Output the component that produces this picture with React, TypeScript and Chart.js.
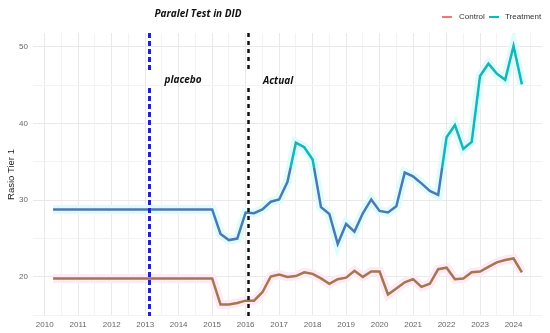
import React, { useEffect, useRef } from "react";
import { Chart, registerables } from "chart.js";

Chart.register(...registerables);

// ---------- data ----------
const quarters = [
  2010.25, 2010.5, 2010.75, 2011, 2011.25, 2011.5, 2011.75, 2012, 2012.25, 2012.5,
  2012.75, 2013, 2013.25, 2013.5, 2013.75, 2014, 2014.25, 2014.5, 2014.75, 2015,
  2015.25, 2015.5, 2015.75, 2016, 2016.25, 2016.5, 2016.75, 2017, 2017.25, 2017.5,
  2017.75, 2018, 2018.25, 2018.5, 2018.75, 2019, 2019.25, 2019.5, 2019.75, 2020,
  2020.25, 2020.5, 2020.75, 2021, 2021.25, 2021.5, 2021.75, 2022, 2022.25, 2022.5,
  2022.75, 2023, 2023.25, 2023.5, 2023.75, 2024, 2024.25,
];

const treatment = [
  28.8, 28.8, 28.8, 28.8, 28.8, 28.8, 28.8, 28.8, 28.8, 28.8,
  28.8, 28.8, 28.8, 28.8, 28.8, 28.8, 28.8, 28.8, 28.8, 28.8,
  25.6, 24.8, 25.0, 28.4, 28.3, 28.8, 29.8, 30.1, 32.4, 37.5,
  36.9, 35.3, 29.1, 28.2, 24.3, 26.9, 25.9, 28.3, 30.1, 28.6,
  28.4, 29.2, 33.6, 33.1, 32.2, 31.2, 30.7, 38.2, 39.8, 36.7,
  37.6, 46.2, 47.8, 46.5, 45.7, 50.1, 45.1,
];

const control = [
  19.8, 19.8, 19.8, 19.8, 19.8, 19.8, 19.8, 19.8, 19.8, 19.8,
  19.8, 19.8, 19.8, 19.8, 19.8, 19.8, 19.8, 19.8, 19.8, 19.8,
  16.4, 16.4, 16.6, 16.9, 16.9, 18.0, 20.05, 20.3, 20.0, 20.1,
  20.6, 20.4, 19.8, 19.1, 19.7, 19.9, 20.8, 20.0, 20.7, 20.7,
  17.7, 18.5, 19.3, 19.7, 18.7, 19.1, 21.0, 21.2, 19.7, 19.8,
  20.6, 20.7, 21.3, 21.9, 22.2, 22.4, 20.6,
];

const xTickYears = [2010, 2011, 2012, 2013, 2014, 2015, 2016, 2017, 2018, 2019, 2020, 2021, 2022, 2023, 2024];
const yTickValues = [15, 20, 25, 30, 35, 40, 45, 50];
const yLabelEvery = 10;

const placeboYear = 2013.1;
const actualYear = 2016.07;
const colorSplitValue = 34.2;

const titleText = "Paralel Test in DID";
const yAxisTitle = "Rasio Tier 1";
const placeboText = "placebo";
const actualText = "Actual";
const legendLabels = ["Control", "Treatment"];
const legendColors = ["#f8766d", "#00bfc4"];

// ---------- styles ----------
const TEAL = "#16b5b7";
const BLUE = "#4d78b2";
const BROWN = "#a3774f";
const CYAN_BAND = "#defcfc";
const PINK_BAND = "#feeaf5";
const FONT = "'Liberation Sans', Arial, sans-serif";
const LABEL_FONT = "italic bold 10px 'Open Sans', 'DejaVu Sans', sans-serif";

const annotationPlugin = {
  id: "didAnnotations",
  afterDatasetsDraw(chart: any) {
    const { ctx, chartArea, scales } = chart;
    const top = chartArea.top;
    const bottom = chartArea.bottom;
    const gapTop = 72;
    const gapBottom = 88;
    const drawV = (value: number, color: string, width: number, dash: number[]) => {
      const x = Math.round(scales.x.getPixelForValue(value)) + 0.5;
      ctx.save();
      ctx.strokeStyle = color;
      ctx.lineWidth = width;
      ctx.setLineDash(dash);
      ctx.beginPath();
      ctx.moveTo(x, top);
      ctx.lineTo(x, gapTop);
      ctx.moveTo(x, gapBottom);
      ctx.lineTo(x, bottom);
      ctx.stroke();
      ctx.restore();
    };
    drawV(placeboYear, "#2222c8", 3, [5, 3]);
    drawV(actualYear, "#111111", 2.5, [4, 4]);
  },
  afterDraw(chart: any) {
    const { ctx, scales } = chart;
    ctx.save();
    ctx.fillStyle = "#111";
    ctx.textBaseline = "middle";
    ctx.font = LABEL_FONT;
    ctx.textAlign = "left";
    ctx.fillText(placeboText, scales.x.getPixelForValue(placeboYear) + 16, 80);
    ctx.fillText(actualText, scales.x.getPixelForValue(actualYear) + 15, 81);
    ctx.textAlign = "center";
    ctx.fillText(titleText, 198, 14);

    // legend
    ctx.font = `8px ${FONT}`;
    ctx.textAlign = "left";
    ctx.fillStyle = "#333";
    const items = [
      { x: 442, tx: 459 },
      { x: 489, tx: 505 },
    ];
    items.forEach((it, i) => {
      ctx.strokeStyle = legendColors[i];
      ctx.lineWidth = 2;
      ctx.setLineDash([]);
      ctx.beginPath();
      ctx.moveTo(it.x, 17);
      ctx.lineTo(it.x + 10, 17);
      ctx.stroke();
      ctx.fillText(legendLabels[i], it.tx, 17);
    });
    ctx.restore();
  },
};

export default function App() {
  const canvasRef = useRef<HTMLCanvasElement | null>(null);

  useEffect(() => {
    if (!canvasRef.current) return;

    const treatmentColor = (c: any) => {
      const chart = c.chart;
      const { chartArea, scales } = chart;
      if (!chartArea) return BLUE;
      const g = chart.ctx.createLinearGradient(0, chartArea.top, 0, chartArea.bottom);
      const yp = scales.y.getPixelForValue(colorSplitValue);
      const f = Math.min(1, Math.max(0, (yp - chartArea.top) / (chartArea.bottom - chartArea.top)));
      g.addColorStop(0, TEAL);
      g.addColorStop(f, TEAL);
      g.addColorStop(f, BLUE);
      g.addColorStop(1, BLUE);
      return g;
    };

    const tPoints = quarters.map((q, i) => ({ x: q, y: treatment[i] }));
    const cPoints = quarters.map((q, i) => ({ x: q, y: control[i] }));

    const chart = new Chart(canvasRef.current, {
      type: "line",
      data: {
        datasets: [
          {
            label: legendLabels[0],
            data: cPoints,
            borderColor: BROWN,
            borderWidth: 2.5,
            pointRadius: 0,
            tension: 0,
            order: 0,
          },
          {
            label: legendLabels[1],
            data: tPoints,
            borderColor: treatmentColor,
            borderWidth: 2.5,
            pointRadius: 0,
            tension: 0,
            order: 0,
          },
          {
            label: "control-band",
            data: cPoints,
            borderColor: PINK_BAND,
            borderWidth: 9,
            pointRadius: 0,
            order: 10,
          },
          {
            label: "treatment-band",
            data: tPoints,
            borderColor: CYAN_BAND,
            borderWidth: 9,
            pointRadius: 0,
            order: 10,
          },
        ],
      },
      options: {
        responsive: false,
        animation: false,
        layout: { padding: { top: 33, right: 8, left: 0, bottom: 0 } },
        plugins: {
          legend: { display: false },
          tooltip: { enabled: false },
          title: { display: false },
        },
        scales: {
          x: {
            type: "linear",
            min: 2009.65,
            max: 2024.85,
            afterBuildTicks: (scale: any) => {
              const t: any[] = [];
              xTickYears.forEach((y) => {
                t.push({ value: y });
                t.push({ value: y + 0.5 });
              });
              scale.ticks = t;
            },
            afterFit: (scale: any) => {
              scale.height = 17;
            },
            border: { display: false },
            grid: {
              drawTicks: false,
              color: (c: any) => (Number.isInteger(c.tick?.value) ? "#e9e9e9" : "#f3f3f3"),
              lineWidth: 1,
            },
            ticks: {
              autoSkip: false,
              maxRotation: 0,
              padding: 4,
              color: "#666",
              font: { size: 8, family: FONT },
              callback: (v: any) => (Number.isInteger(v) ? String(v) : ""),
            },
          },
          y: {
            min: 14.9,
            max: 51.8,
            afterBuildTicks: (scale: any) => {
              scale.ticks = yTickValues.map((v) => ({ value: v }));
            },
            afterFit: (scale: any) => {
              scale.width = 33;
            },
            border: { display: false },
            grid: {
              drawTicks: false,
              color: (c: any) => (c.tick && c.tick.value % yLabelEvery === 0 ? "#e9e9e9" : "#f3f3f3"),
              lineWidth: 1,
            },
            ticks: {
              padding: 5,
              color: "#666",
              font: { size: 8, family: FONT },
              callback: (v: any) => (Number(v) % yLabelEvery === 0 ? String(v) : ""),
            },
            title: {
              display: true,
              text: yAxisTitle,
              color: "#222",
              font: { size: 9.5, family: FONT },
              padding: { top: 6, bottom: 0 },
            },
          },
        },
      },
      plugins: [annotationPlugin],
    });

    return () => chart.destroy();
  }, []);

  return (
    <div style={{ position: "absolute", left: 0, top: 0, width: 550, height: 333, background: "#fff" }}>
      <canvas ref={canvasRef} width={550} height={333} />
    </div>
  );
}
